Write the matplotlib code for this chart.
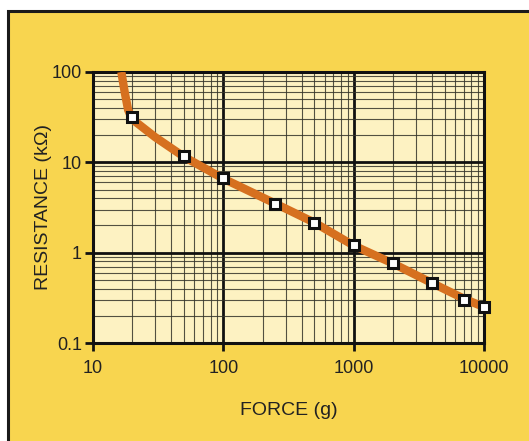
import matplotlib
matplotlib.use("Agg")
import matplotlib.pyplot as plt
from matplotlib.patches import Rectangle
from matplotlib.ticker import LogLocator, NullFormatter, FixedLocator, FixedFormatter

plt.rcParams['font.family'] = ['Liberation Sans', 'DejaVu Sans']

# measured points (force in g, resistance in kOhm)
force = [20, 50, 100, 250, 500, 1000, 2000, 4000, 7000, 10000]
resistance = [32, 11.7, 6.7, 3.45, 2.15, 1.22, 0.76, 0.46, 0.30, 0.25]

# curve running through the points, with its steep start above 20 g
curve_force = [16.5, 17.5, 18.6, 20, 30, 50, 100, 250, 500, 1000, 2000, 4000, 7000, 10000]
curve_res = [100, 60, 38, 30, 19, 11.5, 6.6, 3.5, 2.15, 1.2, 0.76, 0.46, 0.31, 0.25]

xticks = [10, 100, 1000, 10000]
xlabels = ["10", "100", "1000", "10000"]
yticks = [0.1, 1, 10, 100]
ylabels = ["0.1", "1", "10", "100"]

panel = "#F8D54F"
plotbg = "#FDF2C2"
orange = "#D6701F"

fig = plt.figure(figsize=(5.29, 4.41), dpi=100)
fig.patch.set_facecolor("white")
fig.patches.append(Rectangle((8 / 529, -0.1), 1.2, 1 - 11 / 441 + 0.1,
                             transform=fig.transFigure, facecolor=panel,
                             edgecolor="#1a1a1a", linewidth=2.2, zorder=-10))

ax = fig.add_axes([93 / 529, 1 - 343 / 441, (484 - 93) / 529, (343 - 72) / 441])
ax.set_zorder(5)
ax.set_facecolor(plotbg)
ax.set_xscale("log")
ax.set_yscale("log")
ax.set_xlim(10, 10000)
ax.set_ylim(0.1, 100)

ax.xaxis.set_minor_locator(LogLocator(base=10, subs=range(2, 10)))
ax.yaxis.set_minor_locator(LogLocator(base=10, subs=range(2, 10)))
ax.xaxis.set_minor_formatter(NullFormatter())
ax.yaxis.set_minor_formatter(NullFormatter())
ax.xaxis.set_major_locator(FixedLocator(xticks))
ax.xaxis.set_major_formatter(FixedFormatter(xlabels))
ax.yaxis.set_major_locator(FixedLocator(yticks))
ax.yaxis.set_major_formatter(FixedFormatter(ylabels))

ax.grid(which="major", color="#111111", linewidth=2.0)
ax.grid(which="minor", color="#35352a", linewidth=0.8, alpha=0.85)
ax.tick_params(which="minor", length=0)
ax.tick_params(which="major", direction="out", length=6, width=2, color="#111111",
               labelsize=13, labelcolor="#222222", pad=2)
ax.tick_params(axis="x", which="major", pad=6)
for s in ax.spines.values():
    s.set_linewidth(2.2)
    s.set_color("#111111")

ax.plot(curve_force, curve_res, color=orange, linewidth=6, solid_capstyle="butt",
        zorder=3, clip_on=True)
ax.plot(force, resistance, linestyle="none", marker="s", markersize=7.5,
        markerfacecolor="white", markeredgecolor="#111111", markeredgewidth=2.2,
        zorder=4, clip_on=False)

ax.set_xlabel("FORCE (g)", fontsize=14, color="#222222", labelpad=18)
ax.set_ylabel("RESISTANCE (k\u03a9)", fontsize=14, color="#222222", labelpad=0)

fig.savefig("out.png", dpi=100, facecolor=fig.get_facecolor())
